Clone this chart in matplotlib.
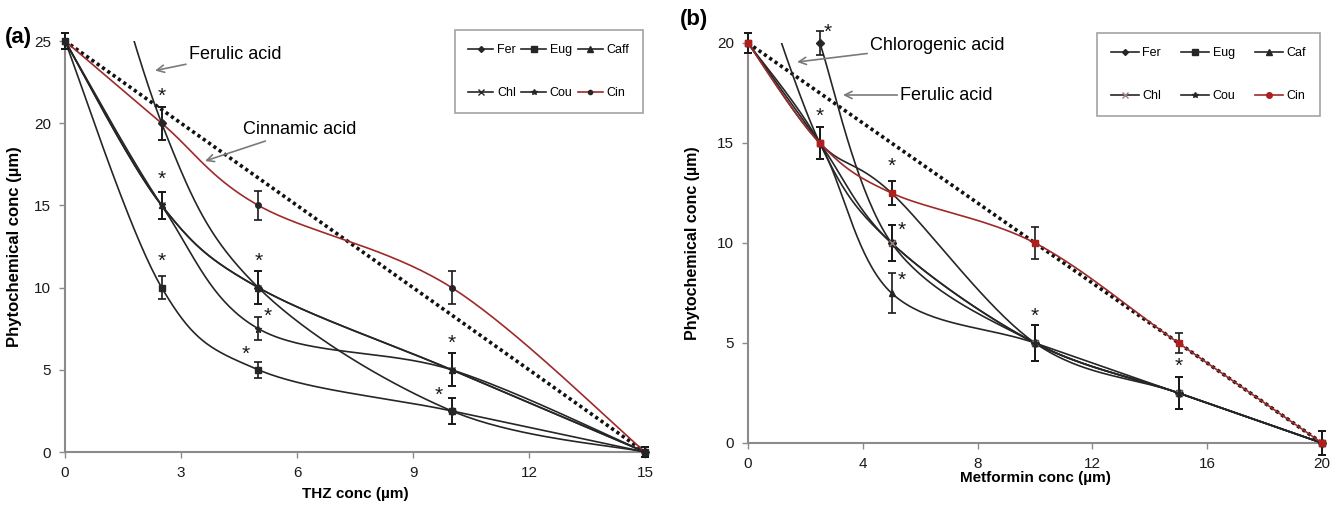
import numpy as np
import matplotlib
matplotlib.use("Agg")
import matplotlib.pyplot as plt
from matplotlib.lines import Line2D

plt.rcParams["font.family"] = ["Liberation Sans", "DejaVu Sans"]

# ---- Panel (a): THZ isobologram ----
thz_x = [0, 2.5, 5, 10, 15]
thz_fer = [40, 20, 10, 2.5, 0]
thz_eug = [25, 10, 5, 2.5, 0]
thz_caff = [25, 15, 10, 5, 0]
thz_chl = [25, 15, 10, 5, 0]
thz_cou = [25, 15, 7.5, 5, 0]
thz_cin = [25, 20, 15, 10, 0]
thz_fer_err = [0, 1.0, 1.0, 0.8, 0.3]
thz_eug_err = [0.5, 0.7, 0.5, 0.8, 0.3]
thz_caff_err = [0.5, 0.8, 1.0, 1.0, 0.3]
thz_chl_err = [0.5, 0.8, 1.0, 1.0, 0.3]
thz_cou_err = [0.5, 0.8, 0.7, 1.0, 0.3]
thz_cin_err = [0.5, 1.0, 0.9, 1.0, 0.3]
thz_stars = [(2.5, 20, "up"), (2.5, 15, "up"), (2.5, 10, "up"), (5, 10, "up"),
             (5, 7.5, "right"), (5, 5, "left"), (10, 5, "up"), (10, 2.5, "left")]

# ---- Panel (b): Metformin isobologram ----
met_x = [0, 2.5, 5, 10, 15, 20]
met_fer = [np.nan, 20, 10, 5, 2.5, 0]
met_eug = [20, 15, 10, 5, 2.5, 0]
met_caf = [20, 15, 7.5, 5, 2.5, 0]
met_chl = [25, 15, 10, 5, 2.5, 0]
met_cou = [20, 15, 12.5, 5, 2.5, 0]
met_cin = [20, 15, 12.5, 10, 5, 0]
met_fer_err = [0, 0.6, 0.9, 0.9, 0.8, 0.6]
met_eug_err = [0.5, 0.8, 0.9, 0.9, 0.8, 0.6]
met_caf_err = [0.5, 0.8, 1.0, 0.9, 0.8, 0.6]
met_chl_err = [0, 0.8, 0.9, 0.9, 0.8, 0.6]
met_cou_err = [0.5, 0.8, 0.6, 0.9, 0.8, 0.6]
met_cin_err = [0.5, 0.8, 0.6, 0.8, 0.5, 0.6]
met_stars = [(2.5, 20, "upright"), (2.5, 15, "up"), (5, 12.5, "up"), (5, 10, "right"),
             (5, 7.5, "right"), (10, 5, "up"), (15, 2.5, "up")]

LINE = "#262626"
RED = "#9e2a2a"
AXIS = "#8f8a8a"


def smooth(xs, ys, n=40):
    """Excel-style smoothed line (Catmull-Rom through the points)."""
    pts = np.column_stack([xs, ys]).astype(float)
    pts = pts[~np.isnan(pts).any(axis=1)]
    out = [pts[0]]
    t = np.linspace(0, 1, n)[1:, None]
    for i in range(len(pts) - 1):
        p0 = pts[i - 1] if i > 0 else pts[i]
        p1, p2 = pts[i], pts[i + 1]
        p3 = pts[i + 2] if i + 2 < len(pts) else pts[i + 1]
        c1 = p1 + (p2 - p0) / 6
        c2 = p2 - (p3 - p1) / 6
        seg = ((1 - t) ** 3) * p1 + 3 * ((1 - t) ** 2) * t * c1 \
            + 3 * (1 - t) * t ** 2 * c2 + t ** 3 * p2
        out.extend(seg)
    return np.array(out)


def draw_series(ax, xs, ys, errs, marker, color, mcolor, ms, ytop):
    ys = np.array(ys, dtype=float)
    errs = np.array(errs, dtype=float)
    curve = smooth(xs, ys)
    ax.plot(curve[:, 0], curve[:, 1], color=color, lw=1.2, zorder=3)
    # points above the axis top are off-chart: line only
    keep = ys <= ytop
    xs_k = np.array(xs)[keep]
    ax.errorbar(xs_k, ys[keep], yerr=errs[keep], fmt="none", ecolor="#1a1a1a",
                elinewidth=1.2, capsize=3, capthick=1.2, zorder=4, clip_on=False)
    ax.plot(xs_k, ys[keep], ls="none", marker=marker, color=mcolor, ms=ms, zorder=5,
            clip_on=False)


def draw_stars(ax, stars):
    offsets = {"up": (0, 19), "left": (-9, 11), "right": (7, 9), "upright": (6, 8)}
    for x, y, side in stars:
        ax.annotate("*", (x, y), xytext=offsets[side], textcoords="offset points",
                    ha="center", va="center", fontsize=15, color="#1a1a1a")


def style_axes(ax, xmax, ymax, xticks, yticks):
    ax.set_xlim(0, xmax)
    ax.set_ylim(0, ymax)
    ax.set_xticks(xticks)
    ax.set_yticks(yticks)
    for s in ["top", "right"]:
        ax.spines[s].set_visible(False)
    for s in ["left", "bottom"]:
        ax.spines[s].set_color(AXIS)
        ax.spines[s].set_linewidth(1.5)
    ax.tick_params(axis="both", direction="out", length=4, width=1, color=AXIS,
                   labelsize=11, labelcolor="#1a1a1a", pad=6)


def make_legend(fig, series, anchor, colspace, hlen):
    handles = []
    for n, _, _, m, c, mc, s in series:
        mk = "o" if n == "Cin" else m
        handles.append(Line2D([], [], color=c, marker=mk, ms=s - 1, lw=1.2,
                              markerfacecolor=mc, markeredgecolor=mc, label=n))
    order = [0, 3, 1, 4, 2, 5]
    leg = fig.legend([handles[i] for i in order], [handles[i].get_label() for i in order],
                     ncol=3, loc="upper right", bbox_to_anchor=anchor,
                     fontsize=9, frameon=True, fancybox=False, edgecolor=AXIS,
                     handlelength=hlen, handletextpad=0.3, columnspacing=colspace,
                     labelspacing=2.5, borderpad=1.1)
    leg.get_frame().set_linewidth(1.2)
    return leg


fig = plt.figure(figsize=(13.35, 5.05), dpi=100)
arrow = dict(arrowstyle="->", color="#7a7a7a", lw=1.2, shrinkA=0, shrinkB=0)

# ------------------ (a) ------------------
ax1 = fig.add_axes([65 / 1335, 1 - 452 / 505, 580 / 1335, 411 / 505])
ax1.plot([0, 15], [25, 0], color="#111111", lw=2.6, ls=(0, (0.9, 0.9)), zorder=2)
series_a = [
    ("Fer", thz_fer, thz_fer_err, "D", LINE, LINE, 4),
    ("Eug", thz_eug, thz_eug_err, "s", LINE, LINE, 5),
    ("Caff", thz_caff, thz_caff_err, "^", LINE, LINE, 5),
    ("Chl", thz_chl, thz_chl_err, "x", LINE, LINE, 5),
    ("Cou", thz_cou, thz_cou_err, "*", LINE, LINE, 5),
    ("Cin", thz_cin, thz_cin_err, "o", RED, LINE, 4),
]
for name, ys, errs, mk, col, mcol, ms in series_a:
    draw_series(ax1, thz_x, ys, errs, mk, col, mcol, ms, 25)
draw_stars(ax1, thz_stars)
style_axes(ax1, 15, 25, [0, 3, 6, 9, 12, 15], [0, 5, 10, 15, 20, 25])
ax1.set_xlabel("THZ conc (\u00b5m)", fontsize=11, fontweight="bold", labelpad=5)
ax1.set_ylabel("Phytochemical conc (\u00b5m)", fontsize=12, fontweight="bold", labelpad=9)

ax1.annotate("Ferulic acid", xy=(2.33, 23.2), xytext=(3.2, 24.2), fontsize=13,
             va="center", ha="left", arrowprops=arrow)
ax1.annotate("Cinnamic acid", xy=(3.62, 17.7), xytext=(4.6, 19.6), fontsize=13,
             va="center", ha="left", arrowprops=arrow)
make_legend(fig, series_a, (649 / 1335, 1 - 24 / 505), 0.4, 2.0)
fig.text(5 / 1335, 1 - 38 / 505, "(a)", fontsize=16, fontweight="bold", va="center")

# ------------------ (b) ------------------
ax2 = fig.add_axes([748 / 1335, 1 - 443 / 505, 574 / 1335, 400 / 505])
ax2.plot([0, 20], [20, 0], color="#111111", lw=2.6, ls=(0, (0.9, 0.9)), zorder=2)
series_b = [
    ("Fer", met_fer, met_fer_err, "D", LINE, LINE, 4),
    ("Eug", met_eug, met_eug_err, "s", LINE, LINE, 5),
    ("Caf", met_caf, met_caf_err, "^", LINE, LINE, 5),
    ("Chl", met_chl, met_chl_err, "x", LINE, "#a08080", 5),
    ("Cou", met_cou, met_cou_err, "*", LINE, LINE, 5),
    ("Cin", met_cin, met_cin_err, "s", RED, "#b01e1e", 5),
]
for name, ys, errs, mk, col, mcol, ms in series_b:
    draw_series(ax2, met_x, ys, errs, mk, col, mcol, ms, 20)
draw_stars(ax2, met_stars)
style_axes(ax2, 20, 20, [0, 4, 8, 12, 16, 20], [0, 5, 10, 15, 20])
ax2.set_xlabel("Metformin conc (\u00b5m)", fontsize=11, fontweight="bold", labelpad=0)
ax2.set_ylabel("Phytochemical conc (\u00b5m)", fontsize=11.5, fontweight="bold", labelpad=12)

ax2.annotate("Chlorogenic acid", xy=(1.71, 19.05), xytext=(4.25, 19.9), fontsize=13,
             va="center", ha="left", arrowprops=arrow, annotation_clip=False)
ax2.annotate("Ferulic acid", xy=(3.31, 17.4), xytext=(5.3, 17.4), fontsize=13,
             va="center", ha="left", arrowprops=arrow)
make_legend(fig, series_b, (1326 / 1335, 1 - 27 / 505), 1.6, 2.2)
fig.text(680 / 1335, 1 - 20 / 505, "(b)", fontsize=16, fontweight="bold", va="center")

fig.savefig("out.png", dpi=100, facecolor="white")
